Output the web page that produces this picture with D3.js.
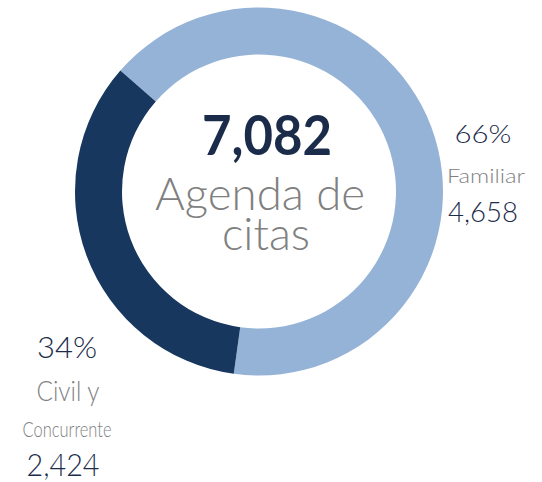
<!DOCTYPE html>
<html><head><meta charset="utf-8">
<script src="https://cdn.jsdelivr.net/npm/d3@7"></script>
<style>html,body{margin:0;padding:0;background:#fff;}svg{display:block;}</style>
</head><body>
<svg id="c" width="542" height="482"></svg>
<script>
const categories = ["Familiar", "Civil y Concurrente"];
const values = [4658, 2424];
const percents = ["66%", "34%"];
const valueLabels = ["4,658", "2,424"];
const totalLabel = "7,082";
const centerTitle = ["Agenda de", "citas"];
const colors = ["#95B3D7", "#17375E"];

const svg = d3.select("#c");
const cx = 259, cy = 191.5, rOuter = 184, rInner = 137;
const start = -48.9 * Math.PI / 180;

const pie = d3.pie().sort(null).value(d => d).startAngle(start).endAngle(start + 2 * Math.PI);
const arc = d3.arc().innerRadius(rInner).outerRadius(rOuter);
const g = svg.append("g").attr("transform", `translate(${cx},${cy})`);
g.selectAll("path").data(pie(values)).join("path")
  .attr("d", arc).attr("fill", (d, i) => colors[i]);

const navy = "#1B2C4A", gray = "#808080";
const font = "Lato, 'Open Sans', sans-serif";

function label(x, y, txt, size, fill, weight, len) {
  const t = svg.append("text").attr("x", x).attr("y", y).attr("text-anchor", "middle")
    .attr("font-family", font).attr("font-weight", weight).attr("font-size", size)
    .attr("fill", fill).text(txt);
  if (len) t.attr("textLength", len).attr("lengthAdjust", "spacingAndGlyphs");
  return t;
}

label(267, 155, totalLabel, 56, navy, 700, 130);
label(260, 210, centerTitle[0], 45, gray, 300, 210);
label(266, 250, centerTitle[1], 45, gray, 300, 88);

// Familiar
label(483, 143, percents[0], 25, navy, 300, 57);
label(486, 183, categories[0], 20, gray, 300, 78);
label(483, 222, valueLabels[0], 27, navy, 300, 70);
// Civil y Concurrente
label(67, 358, percents[1], 30, navy, 300, 60);
label(68, 401, "Civil y", 27, gray, 300, 63);
label(67, 437, "Concurrente", 21, gray, 300, 89);
label(63, 476, valueLabels[1], 32, navy, 300, 73);
</script>
</body></html>
